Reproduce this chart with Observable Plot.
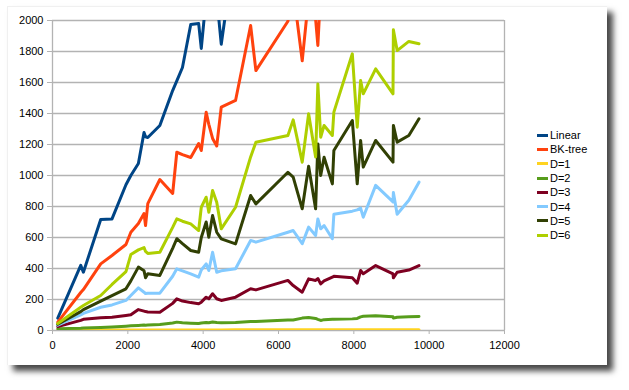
<!DOCTYPE html>
<html>
<head>
<meta charset="utf-8">
<script src="https://cdn.jsdelivr.net/npm/d3@7"></script>
<script src="https://cdn.jsdelivr.net/npm/@observablehq/plot@0.6"></script>
<style>
  html, body { margin: 0; padding: 0; background: #ffffff; }
  body { width: 629px; height: 390px; position: relative; overflow: hidden; font-family: "Liberation Sans", Arial, sans-serif; }
  #card { position: absolute; left: 7px; top: 6px; width: 600px; height: 359px; background: #fff;
          box-shadow: 6px 6px 6px rgba(0,0,0,0.72); border-top: 1px solid #f0f0f0; border-left: 1px solid #f0f0f0; box-sizing: border-box; }
  #chart { position: absolute; left: 0; top: 0; }
  #chart svg { background: transparent; }
  #legend { position: absolute; left: 537px; top: 128px; font-size: 11px; color: #000; }
  .row { height: 14.3px; display: flex; align-items: center; white-space: nowrap; }
  .sw { display: inline-block; width: 11px; height: 3px; margin-right: 2px; }
</style>
</head>
<body>
<div id="card"></div>
<div id="chart"></div>
<div id="legend"></div>
<script>
const seriesNames = ["Linear", "BK-tree", "D=1", "D=2", "D=3", "D=4", "D=5", "D=6"];
const seriesColors = ["#004586", "#ff420e", "#ffd320", "#579d1c", "#7e0021", "#83caff", "#314004", "#aecf00"];

const xs = [140, 750, 820, 1280, 1580, 1950, 2080, 2280, 2430, 2470, 2530, 2850, 3190, 3300, 3450, 3670, 3880, 3950, 4080, 4150, 4250, 4360, 4480, 4860, 5260, 5400, 6250, 6390, 6630, 6800, 6985, 7045, 7120, 7210, 7430, 7470, 7960, 8090, 8180, 8250, 8580, 9040, 9050, 9150, 9460, 9730];

const linear = [80, 420, 376, 716, 720, 940, 1000, 1077, 1277, 1250, 1245, 1323, 1548, 1610, 1697, 1974, 1981, 1820, 2150, 2250, 2300, 2150, 1847, 2500, 2700, 2750, 3100, 3150, 3250, 3300, 3350, 3400, 3420, 3450, 3500, 3520, 3700, 3750, 3780, 3800, 3900, 4050, 4060, 4100, 4200, 4300];
const bkTree = [54, 245, 264, 430, 484, 555, 634, 690, 755, 677, 819, 974, 884, 1150, 1135, 1116, 1206, 1161, 1408, 1330, 1239, 1190, 1441, 1484, 1968, 1677, 1995, 2200, 1740, 2150, 2010, 1839, 2200, 2350, 2450, 2500, 2700, 2750, 2800, 2820, 2950, 3100, 3120, 3150, 3250, 3350];
const d1 = [2, 3, 3, 3, 3, 3, 3, 4, 4, 4, 4, 4, 4, 4, 4, 4, 4, 4, 4, 4, 4, 4, 4, 5, 5, 5, 5, 5, 5, 5, 5, 5, 5, 5, 5, 5, 5, 5, 5, 5, 5, 5, 5, 5, 5, 5];
const d2 = [12, 15, 16, 20, 23, 28, 30, 33, 35, 34, 35, 38, 48, 54, 50, 47, 45, 48, 52, 50, 55, 52, 50, 52, 58, 58, 68, 68, 80, 84, 78, 72, 65, 70, 72, 72, 75, 78, 88, 92, 95, 88, 80, 86, 88, 90];
const d3 = [25, 65, 72, 82, 85, 97, 101, 135, 125, 122, 120, 118, 175, 204, 190, 180, 172, 183, 215, 205, 237, 205, 194, 215, 269, 262, 323, 290, 247, 333, 323, 335, 301, 320, 344, 350, 340, 305, 387, 366, 419, 366, 340, 376, 390, 419];
const d4 = [35, 100, 110, 150, 165, 194, 226, 275, 247, 238, 240, 241, 350, 398, 385, 365, 344, 390, 430, 387, 505, 376, 385, 398, 581, 570, 634, 645, 560, 667, 613, 720, 656, 677, 592, 750, 770, 778, 790, 731, 936, 830, 890, 750, 840, 957];
const d5 = [40, 122, 135, 190, 225, 269, 320, 409, 385, 340, 366, 355, 530, 592, 560, 516, 505, 600, 700, 602, 742, 634, 591, 559, 871, 817, 1021, 990, 785, 1060, 785, 1204, 1000, 1118, 946, 1161, 1355, 946, 1226, 1054, 1226, 1086, 1323, 1215, 1258, 1366];
const d6 = [45, 150, 161, 226, 297, 380, 490, 520, 535, 510, 497, 505, 665, 720, 705, 688, 645, 795, 860, 763, 903, 828, 656, 795, 1120, 1215, 1258, 1359, 1086, 1398, 1120, 1591, 1247, 1323, 1258, 1409, 1785, 1312, 1613, 1527, 1688, 1527, 1940, 1806, 1865, 1850];

const yTicks = [0, 200, 400, 600, 800, 1000, 1200, 1400, 1600, 1800, 2000];
const xTicks = [0, 2000, 4000, 6000, 8000, 10000, 12000];

const seriesValues = [linear, bkTree, d1, d2, d3, d4, d5, d6];
const data = seriesNames.flatMap((name, i) => xs.map((x, j) => ({series: name, x, y: seriesValues[i][j]})));

const grid = "#b3b3b3";
const chart = Plot.plot({
  width: 629,
  height: 390,
  marginLeft: 52,
  marginRight: 125,
  marginTop: 20,
  marginBottom: 60,
  style: {fontFamily: "'Liberation Sans', Arial, sans-serif", fontSize: "11px", background: "transparent", color: "#000"},
  x: {domain: [0, 12000], label: null},
  y: {domain: [0, 2000], label: null},
  color: {domain: seriesNames, range: seriesColors},
  marks: [
    Plot.ruleY(yTicks, {stroke: grid, strokeWidth: 1.3}),
    Plot.ruleX([0, 12000], {stroke: grid, strokeWidth: 1.3}),
    Plot.axisY({ticks: yTicks, tickSize: 5, tickPadding: 4, tickFormat: d => String(d), stroke: grid, fill: "#000", label: null}),
    Plot.axisX({ticks: xTicks, tickSize: 4, tickPadding: 7, tickFormat: d => String(d), stroke: grid, fill: "#000", label: null}),
    Plot.line(data, {x: "x", y: "y", z: "series", stroke: "series", strokeWidth: 3, clip: true})
  ]
});
document.getElementById("chart").appendChild(chart);

const legend = document.getElementById("legend");
seriesNames.forEach((name, i) => {
  const row = document.createElement("div");
  row.className = "row";
  const sw = document.createElement("span");
  sw.className = "sw";
  sw.style.background = seriesColors[i];
  const t = document.createElement("span");
  t.textContent = name;
  row.appendChild(sw);
  row.appendChild(t);
  legend.appendChild(row);
});
</script>
</body>
</html>
